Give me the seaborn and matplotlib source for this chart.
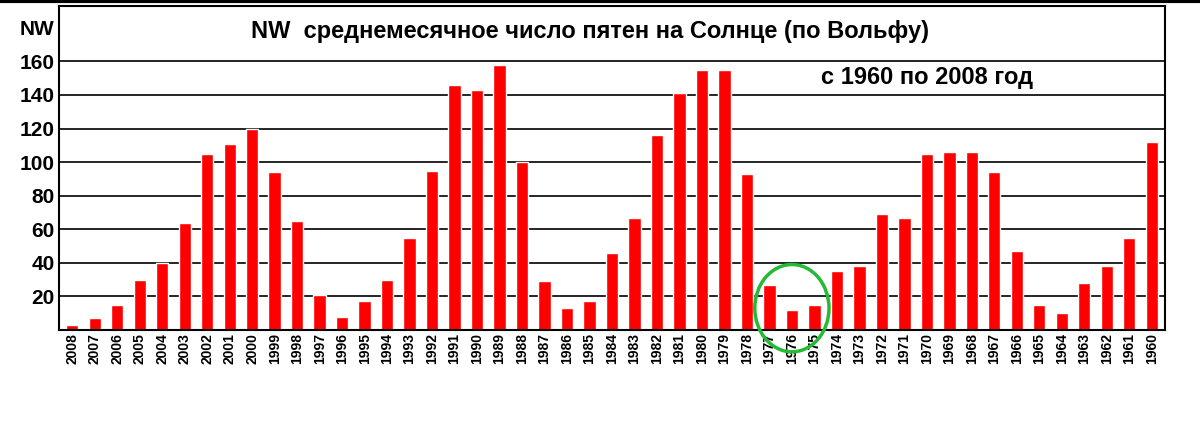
import matplotlib
matplotlib.use('Agg')
import matplotlib.pyplot as plt
import seaborn as sns
import pandas as pd
from matplotlib.patches import Ellipse

sns.set_theme(style="white")
plt.rcParams['font.family'] = ['Liberation Sans', 'DejaVu Sans']
plt.rcParams['text.color'] = 'black'
plt.rcParams['xtick.color'] = 'black'
plt.rcParams['ytick.color'] = 'black'

# ================================
# DATA
# ================================
years = list(range(2008, 1959, -1))
spots = [3, 7, 15, 30, 40, 64, 105, 111, 120, 94,
         65, 21, 8, 17, 30, 55, 95, 146, 143, 158,
         100, 29, 13, 17, 46, 67, 116, 141, 155, 155,
         93, 27, 12, 15, 35, 38, 69, 67, 105, 106,
         106, 94, 47, 15, 10, 28, 38, 55, 112]
yticks = [20, 40, 60, 80, 100, 120, 140, 160, 180]
ytick_labels = ["20", "40", "60", "80", "100", "120", "140", "160", "NW"]

df = pd.DataFrame({"year": [str(y) for y in years], "nw": spots})

# ================================
# PLOT
# ================================
fig = plt.figure(figsize=(12, 4.28), dpi=100)
ax = fig.add_axes([0.049, 0.229, 0.922, 0.757])

for y in yticks[:-1]:
    ax.axhline(y, color="black", lw=1.2, zorder=0)

sns.barplot(data=df, x="year", y="nw", color="#ff0000", saturation=1,
            width=0.55, ax=ax, zorder=2)

ax.set_ylim(0, 193)
ax.set_xlim(-0.6, len(years) - 0.4)
ax.set_yticks(yticks)
ax.set_yticklabels(ytick_labels, fontsize=15, fontweight="bold")
ax.tick_params(axis="x", labelrotation=90, labelsize=10, length=0, pad=2)
ax.tick_params(axis="y", length=0, pad=3)
for lbl in ax.get_xticklabels():
    lbl.set_fontweight("bold")
ax.set_xlabel("")
ax.set_ylabel("")
for s in ax.spines.values():
    s.set_color("black")
    s.set_linewidth(1.5)

ax.text(0.48, 0.92, "NW  среднемесячное число пятен на Солнце (по Вольфу)",
        transform=ax.transAxes, ha="center", va="center",
        fontsize=17, fontweight="bold", zorder=5)
ax.text(0.785, 0.78, "с 1960 по 2008 год", transform=ax.transAxes,
        ha="center", va="center", fontsize=17, fontweight="bold", zorder=5)

# hand-drawn green circle around 1977-1975
ax.add_patch(Ellipse((32, 13), width=3.3, height=52, fill=False,
                     edgecolor="#22bb33", lw=2.5, zorder=6, clip_on=False))

fig.add_artist(plt.Line2D([0, 1], [0.998, 0.998], color="black", lw=3))

fig.savefig("out.png", dpi=100)
plt.close(fig)
